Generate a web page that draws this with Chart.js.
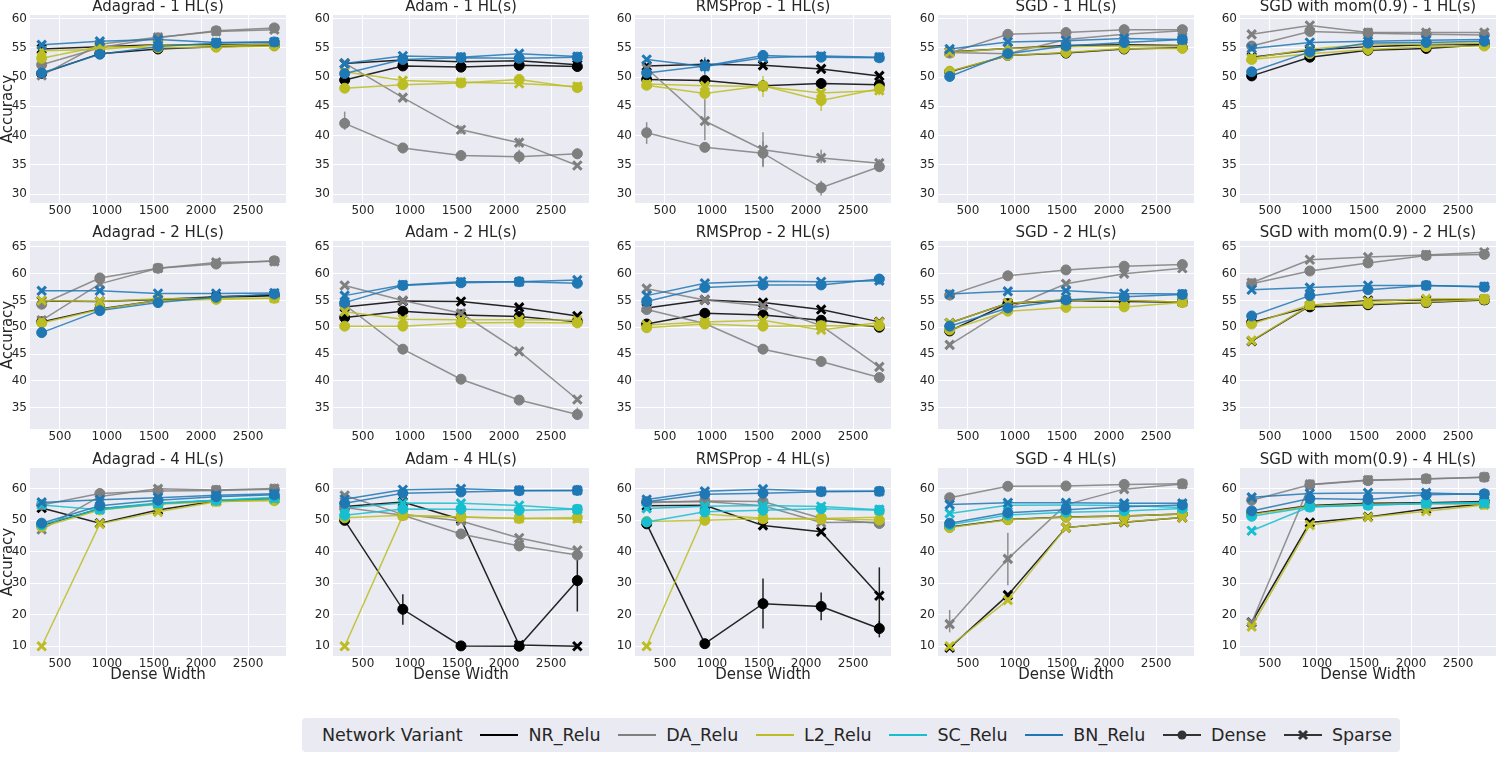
<!DOCTYPE html>
<html>
<head>
<meta charset="utf-8">
<script src="https://cdn.jsdelivr.net/npm/chart.js@4.4.0/dist/chart.umd.min.js"></script>
<style>
  body { margin: 0; width: 1500px; height: 757px; overflow: hidden; position: relative; background: #fff; font-family: 'DejaVu Sans', sans-serif; }
  canvas { position: absolute; }
  #legend { position: absolute; left: 302px; top: 718px; width: 1098px; height: 34px; background: #eaeaf2; border-radius: 4px;
            box-sizing: border-box; padding: 0 8px 0 20px; display: flex; align-items: center; justify-content: space-between; }
  .li { display: flex; align-items: center; font-size: 17.5px; color: #262626; white-space: nowrap; }
  .li svg { margin-right: 9px; }
</style>
</head>
<body>
<div id="legend"></div>
<script>
// x positions (dense width) and tick labels
const widths = [307, 925, 1543, 2161, 2779];
const xTicks = [500, 1000, 1500, 2000, 2500];
const optimizers = ['Adagrad', 'Adam', 'RMSProp', 'SGD', 'SGD with mom(0.9)'];
const hiddenLayers = [1, 2, 4];
const variants = ['NR_Relu', 'DA_Relu', 'L2_Relu', 'SC_Relu', 'BN_Relu'];
const kinds = ['Dense', 'Sparse'];
const yTicksByRow = [[30, 35, 40, 45, 50, 55, 60], [35, 40, 45, 50, 55, 60, 65], [10, 20, 30, 40, 50, 60]];
const yMinByRow = [28.5, 31.0, 6.9];
const yMaxByRow = [60.6, 66.1, 66.5];

// rows: NR dense, NR sparse, DA dense, DA sparse, L2 dense, L2 sparse, SC dense, SC sparse, BN dense, BN sparse
const adagrad_1HL = [
  [50.6, 54.0, 54.8, 55.2, 55.4], [54.8, 55.2, 55.5, 55.5, 55.6],
  [52.1, 55.0, 56.7, 57.9, 58.4], [50.3, 55.6, 56.8, 57.8, 58.1],
  [53.2, 55.2, 55.0, 55.1, 55.3], [54.5, 54.7, 55.5, 55.4, 55.6],
  null, null,
  [50.7, 53.9, 55.2, 55.8, 56.0], [55.5, 56.1, 56.4, 55.9, 56.0]
];
const adam_1HL = [
  [49.5, 51.9, 51.7, 52.0, 51.8], [52.3, 52.9, 52.6, 52.8, 52.1],
  [42.1, 37.9, 36.6, 36.4, 36.9], [52.4, 46.5, 41.0, 38.8, 34.9],
  [48.1, 48.7, 49.0, 49.6, 48.2], [50.9, 49.4, 49.1, 48.9, 48.4],
  null, null,
  [50.6, 53.0, 53.3, 53.2, 53.4], [52.3, 53.6, 53.4, 54.0, 53.5]
];
const rmsprop_1HL = [
  [49.6, 49.4, 48.5, 48.9, 48.7], [51.9, 52.2, 52.0, 51.4, 50.2],
  [40.5, 38.0, 37.0, 31.1, 34.7], [51.5, 42.5, 37.6, 36.2, 35.3],
  [48.6, 47.2, 48.5, 46.0, 48.0], [48.8, 48.5, 48.4, 47.3, 47.7],
  null, null,
  [50.7, 51.9, 53.7, 53.4, 53.3], [53.0, 51.8, 53.3, 53.6, 53.4]
];
const sgd_1HL = [
  [50.9, 53.7, 54.1, 54.8, 55.0], [54.3, 54.9, 55.4, 55.5, 55.4],
  [54.1, 57.3, 57.6, 58.1, 58.1], [54.2, 54.0, 56.4, 57.3, 57.9],
  [51.0, 53.7, 54.2, 54.9, 54.9], [54.2, 54.9, 55.2, 55.3, 55.3],
  null, null,
  [50.1, 54.0, 55.3, 55.9, 56.4], [54.8, 56.0, 56.2, 56.6, 56.4]
];
const sgdmom_1HL = [
  [50.2, 53.4, 54.6, 54.9, 55.5], [53.4, 54.6, 55.2, 55.5, 55.6],
  [55.3, 57.8, 57.5, 57.3, 57.2], [57.3, 58.8, 57.6, 57.6, 57.6],
  [53.0, 54.0, 54.7, 55.2, 55.3], [53.2, 54.8, 55.6, 55.6, 55.8],
  null, null,
  [50.9, 54.3, 55.8, 55.9, 56.1], [54.9, 55.9, 56.1, 56.3, 56.4]
];
const adagrad_2HL = [
  [51.0, 53.4, 55.0, 55.6, 55.9], [54.9, 54.8, 55.2, 55.7, 56.0],
  [54.3, 59.2, 61.0, 61.8, 62.4], [51.3, 58.1, 61.0, 62.1, 62.3],
  [50.8, 53.3, 55.0, 55.2, 55.4], [55.0, 54.8, 55.3, 55.4, 55.4],
  null, null,
  [49.0, 53.1, 54.6, 55.6, 56.2], [56.8, 56.8, 56.3, 56.3, 56.4]
];
const adam_2HL = [
  [51.8, 53.0, 52.3, 52.0, 51.0], [53.8, 54.9, 54.8, 53.7, 52.1],
  [54.2, 45.9, 40.3, 36.4, 33.7], [57.8, 55.0, 52.6, 45.5, 36.5],
  [50.2, 50.2, 50.8, 50.9, 50.8], [52.9, 51.5, 51.4, 51.4, 51.3],
  null, null,
  [54.6, 57.8, 58.3, 58.5, 58.2], [55.9, 57.9, 58.5, 58.5, 58.8]
];
const rmsprop_2HL = [
  [50.6, 52.6, 52.3, 51.3, 50.0], [53.6, 55.1, 54.6, 53.3, 51.0],
  [53.3, 50.7, 45.9, 43.6, 40.6], [57.2, 55.1, 54.0, 50.3, 42.6],
  [49.9, 50.6, 50.2, 50.3, 50.3], [50.4, 51.0, 51.3, 49.5, 50.9],
  null, null,
  [54.8, 57.4, 57.9, 57.9, 59.0], [55.9, 58.2, 58.6, 58.5, 58.7]
];
const sgd_2HL = [
  [49.3, 54.4, 55.0, 54.8, 54.7], [50.8, 54.5, 55.1, 54.9, 54.7],
  [56.0, 59.6, 60.7, 61.4, 61.7], [46.7, 53.5, 58.1, 60.0, 61.0],
  [49.5, 53.0, 53.7, 53.8, 54.6], [50.8, 54.5, 55.1, 55.0, 54.7],
  null, null,
  [50.2, 53.6, 55.1, 55.7, 56.1], [56.2, 56.7, 56.8, 56.3, 56.2]
];
const sgdmom_2HL = [
  [50.9, 53.8, 54.2, 54.6, 55.1], [47.4, 54.0, 55.0, 55.1, 55.2],
  [58.1, 60.5, 62.0, 63.4, 63.6], [58.3, 62.6, 63.1, 63.5, 64.0],
  [50.6, 54.2, 54.4, 54.7, 55.2], [47.5, 54.1, 54.8, 55.3, 55.3],
  null, null,
  [52.1, 55.9, 57.0, 57.8, 57.5], [57.0, 57.4, 57.8, 57.8, 57.6]
];
const adagrad_4HL = [
  [48.3, 53.6, 55.2, 56.2, 56.8], [53.8, 49.0, 53.2, 56.0, 56.6],
  [54.8, 58.4, 59.2, 59.4, 59.8], [47.0, 57.5, 59.9, 59.5, 60.0],
  [47.8, 53.2, 55.0, 55.9, 56.1], [10.0, 48.8, 52.6, 55.8, 56.5],
  [48.5, 53.6, 55.4, 56.3, 57.2], [54.8, 53.3, 55.2, 56.3, 56.8],
  [49.0, 54.5, 56.3, 57.4, 58.0], [55.6, 56.4, 57.1, 57.9, 58.3]
];
const adam_4HL = [
  [49.9, 21.7, 10.1, 10.0, 30.8], [54.3, 55.7, 50.2, 10.4, 10.0],
  [54.0, 51.5, 45.6, 41.8, 38.9], [57.8, 51.8, 49.7, 44.3, 40.4],
  [50.7, 51.5, 51.0, 50.5, 50.8], [10.0, 51.4, 51.0, 50.5, 50.4],
  [51.5, 53.5, 53.4, 53.1, 53.4], [53.8, 55.4, 55.3, 54.6, 53.4],
  [55.3, 58.5, 58.9, 59.3, 59.4], [56.6, 59.6, 59.9, 59.4, 59.4]
];
const rmsprop_4HL = [
  [48.8, 10.8, 23.5, 22.6, 15.6], [54.5, 54.7, 48.3, 46.3, 26.0],
  [55.5, 56.0, 55.9, 50.6, 48.9], [55.8, 55.9, 54.5, 49.2, 49.3],
  [49.5, 49.9, 50.4, 50.3, 50.0], [10.0, 51.9, 50.6, 50.5, 50.9],
  [49.4, 52.6, 53.1, 53.6, 53.1], [53.7, 54.4, 54.6, 54.3, 53.3],
  [55.8, 58.2, 58.5, 59.0, 59.1], [56.5, 59.1, 59.8, 59.1, 59.1]
];
const sgd_4HL = [
  [47.8, 50.2, 51.0, 51.3, 51.9], [9.5, 26.2, 47.6, 49.3, 50.8],
  [57.1, 60.7, 60.8, 61.3, 61.5], [17.0, 37.7, 54.9, 59.8, 61.4],
  [47.6, 50.1, 50.9, 51.3, 51.9], [10.0, 24.6, 47.6, 49.4, 50.8],
  [48.5, 51.6, 52.5, 52.9, 53.7], [52.1, 54.7, 54.8, 54.6, 54.0],
  [49.0, 52.3, 53.3, 54.2, 54.8], [54.9, 55.5, 55.5, 55.3, 55.3]
];
const sgdmom_4HL = [
  [52.0, 54.6, 55.3, 55.5, 55.9], [17.6, 49.2, 51.0, 53.5, 55.1],
  [56.3, 61.2, 62.5, 63.1, 63.6], [17.5, 61.3, 62.7, 63.0, 63.6],
  [51.8, 54.4, 55.0, 55.2, 55.0], [16.2, 48.4, 50.9, 52.8, 54.8],
  [51.2, 54.1, 54.7, 55.3, 55.6], [46.6, 54.2, 54.8, 55.2, 55.3],
  [52.9, 56.8, 56.5, 58.0, 58.3], [57.2, 58.4, 58.6, 58.6, 58.1]
];

// [row, col, series row, point, low, high]
const errorBars = [
  [0, 1, 2, 0, 41.0, 44.1], [0, 1, 2, 1, 37.0, 38.7], [0, 1, 2, 3, 35.2, 37.6], [0, 1, 2, 4, 36.0, 37.8],
  [0, 1, 3, 2, 40.3, 41.7], [0, 1, 3, 3, 38.0, 39.6],
  [0, 2, 8, 1, 50.4, 53.4], [0, 2, 1, 1, 51.5, 53.0], [0, 2, 5, 2, 46.6, 50.2], [0, 2, 4, 3, 44.2, 47.8],
  [0, 2, 4, 1, 46.4, 48.0], [0, 2, 5, 4, 46.9, 48.5], [0, 2, 3, 1, 39.2, 46.2], [0, 2, 3, 2, 34.8, 40.6],
  [0, 2, 3, 3, 35.3, 37.6], [0, 2, 3, 4, 34.6, 36.0], [0, 2, 2, 0, 38.6, 42.3], [0, 2, 2, 2, 34.6, 39.0],
  [0, 2, 2, 3, 29.8, 32.3], [0, 2, 2, 4, 33.8, 35.6],
  [1, 1, 2, 4, 32.7, 35.0], [1, 1, 2, 1, 45.2, 46.6], [1, 2, 2, 2, 45.2, 46.6],
  [2, 1, 0, 1, 16.8, 26.5], [2, 1, 0, 4, 21.0, 37.5],
  [2, 2, 0, 2, 15.6, 31.5], [2, 2, 0, 3, 18.2, 27.0], [2, 2, 0, 4, 12.8, 18.0], [2, 2, 1, 4, 17.0, 35.0],
  [2, 3, 3, 0, 14.4, 21.5], [2, 3, 3, 1, 29.3, 46.0]
];

const panels = [
  [adagrad_1HL, adam_1HL, rmsprop_1HL, sgd_1HL, sgdmom_1HL],
  [adagrad_2HL, adam_2HL, rmsprop_2HL, sgd_2HL, sgdmom_2HL],
  [adagrad_4HL, adam_4HL, rmsprop_4HL, sgd_4HL, sgdmom_4HL]
];

const colors = { NR_Relu: '#000000', DA_Relu: '#7f7f7f', L2_Relu: '#bcbd22', SC_Relu: '#17becf', BN_Relu: '#1f77b4' };
const FONT = "'DejaVu Sans', sans-serif";
const TXT = '#262626';
const PLOT_W = 256, PLOT_H = 188, TITLE_H = 20, Y_W = 30;
const colLeft = [30, 332.5, 635, 937.5, 1240];
const rowTop = [15, 241, 468];

function rgba(hex, a) {
  const n = parseInt(hex.slice(1), 16);
  return `rgba(${n >> 16},${(n >> 8) & 255},${n & 255},${a})`;
}

const plotBg = {
  id: 'plotBg',
  beforeDraw(chart) {
    const { ctx, chartArea: a } = chart;
    ctx.save();
    ctx.fillStyle = '#eaeaf2';
    ctx.fillRect(a.left, a.top, a.right - a.left, a.bottom - a.top);
    ctx.restore();
  }
};

const errBars = {
  id: 'errBars',
  beforeDatasetsDraw(chart, args, opts) {
    const { ctx, scales: { x, y } } = chart;
    ctx.save();
    ctx.lineWidth = 1.5;
    (opts.bars || []).forEach(b => {
      const px = x.getPixelForValue(widths[b.point]);
      ctx.strokeStyle = rgba(b.color, 0.85);
      ctx.beginPath();
      ctx.moveTo(px, y.getPixelForValue(b.low));
      ctx.lineTo(px, y.getPixelForValue(b.high));
      ctx.stroke();
    });
    ctx.restore();
  }
};

hiddenLayers.forEach((hl, r) => {
  optimizers.forEach((opt, c) => {
    const rows = panels[r][c];
    const xH = r === 2 ? 27 : 16;
    const w = Y_W + PLOT_W + 8, h = TITLE_H + PLOT_H + xH;
    const cv = document.createElement('canvas');
    cv.width = w; cv.height = h;
    cv.style.width = w + 'px'; cv.style.height = h + 'px';
    cv.style.left = (colLeft[c] - Y_W) + 'px';
    cv.style.top = (rowTop[r] - TITLE_H) + 'px';
    document.body.appendChild(cv);

    // BN first so it ends up drawn on top
    const datasets = [];
    for (let v = variants.length - 1; v >= 0; v--) {
      kinds.forEach((k, ki) => {
        const vals = rows[v * 2 + ki];
        if (!vals) return;
        const col = colors[variants[v]];
        const sparse = k === 'Sparse';
        datasets.push({
          label: variants[v] + ' ' + k,
          data: widths.map((x, i) => ({ x, y: vals[i] })),
          borderColor: rgba(col, 0.85),
          borderWidth: 1.5,
          pointStyle: sparse ? 'crossRot' : 'circle',
          pointRadius: sparse ? 6 : 5,
          pointBorderWidth: sparse ? 3 : 1,
          pointBorderColor: col,
          pointBackgroundColor: col,
          tension: 0,
          fill: false,
          clip: false
        });
      });
    }

    const bars = errorBars.filter(e => e[0] === r && e[1] === c).map(e => ({
      color: colors[variants[Math.floor(e[2] / 2)]], point: e[3], low: e[4], high: e[5]
    }));

    new Chart(cv, {
      type: 'line',
      data: { datasets },
      plugins: [plotBg, errBars],
      options: {
        responsive: false,
        animation: false,
        events: [],
        layout: { padding: { left: 0, top: 0, bottom: 0, right: 8 }, autoPadding: false },
        plugins: {
          legend: { display: false },
          tooltip: { enabled: false },
          title: {
            display: true, fullSize: false, text: `${opt} - ${hl} HL(s)`, color: TXT,
            font: { family: FONT, size: 15, weight: 'normal', lineHeight: 1 },
            padding: { top: 5, bottom: 0 }
          },
          errBars: { bars }
        },
        scales: {
          x: {
            type: 'linear', min: 183, max: 2903,
            afterBuildTicks: s => { s.ticks = xTicks.map(v => ({ value: v })); },
            afterFit: s => { s.height = xH; s.paddingLeft = 0; s.paddingRight = 0; },
            grid: { color: '#ffffff', lineWidth: 1, drawTicks: false },
            border: { display: false },
            ticks: { padding: 1, color: TXT, font: { family: FONT, size: 12 }, maxRotation: 0, autoSkip: false, callback: v => String(v) },
            title: { display: r === 2, text: 'Dense Width', color: TXT, font: { family: FONT, size: 15, lineHeight: 1 }, padding: { top: 0, bottom: 0 } }
          },
          y: {
            type: 'linear', min: yMinByRow[r], max: yMaxByRow[r],
            afterBuildTicks: s => { s.ticks = yTicksByRow[r].map(v => ({ value: v })); },
            afterFit: s => { s.width = Y_W; s.paddingTop = 0; s.paddingBottom = 0; },
            grid: { color: '#ffffff', lineWidth: 1, drawTicks: false },
            border: { display: false },
            ticks: { padding: 3, color: TXT, font: { family: FONT, size: 12 }, callback: v => String(v) },
            title: { display: c === 0, text: 'Accuracy', color: TXT, font: { family: FONT, size: 15, lineHeight: 1 }, padding: { top: 1, bottom: 0 } }
          }
        }
      }
    });
  });
});

// legend
const legend = document.getElementById('legend');
function addItem(label, color, marker) {
  const d = document.createElement('div');
  d.className = 'li';
  if (color) {
    let inner = `<line x1="1" y1="8" x2="39" y2="8" stroke="${color}" stroke-width="2.2"/>`;
    if (marker === 'Dense') inner += `<circle cx="20" cy="8" r="4.5" fill="${color}"/>`;
    if (marker === 'Sparse') inner += `<path d="M16 4 L24 12 M24 4 L16 12" stroke="${color}" stroke-width="3"/>`;
    d.innerHTML = `<svg width="40" height="16">${inner}</svg>`;
  }
  d.appendChild(document.createTextNode(label));
  legend.appendChild(d);
}
addItem('Network Variant', null, null);
variants.forEach(v => addItem(v, colors[v], null));
kinds.forEach(k => addItem(k, '#333333', k));
</script>
</body>
</html>
